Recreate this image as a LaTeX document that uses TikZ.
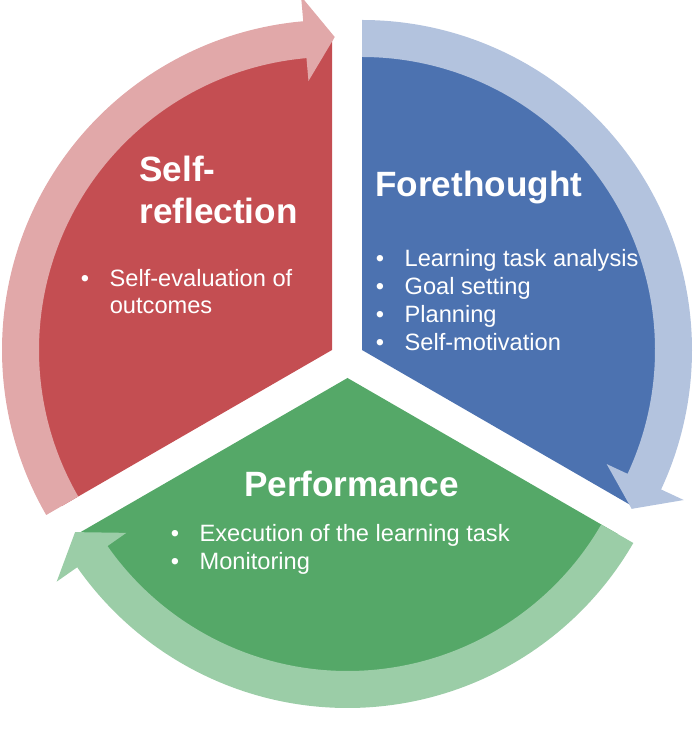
\documentclass[tikz,border=0pt]{standalone}
\usepackage{fontspec}
\setmainfont{Liberation Sans}
\usepackage{tikz}
\definecolor{foreblue}{HTML}{4C72B0}
\definecolor{forelight}{HTML}{B3C3DE}
\definecolor{perfgreen}{HTML}{55A868}
\definecolor{perflight}{HTML}{9BCDA7}
\definecolor{reflred}{HTML}{C44E52}
\definecolor{refllight}{HTML}{E1A8A9}
\newcommand{\bul}[1]{\makebox[16.4pt][l]{\textbullet}#1}

\begin{document}
\begin{tikzpicture}[x=0.02cm,y=0.02cm,
  phasetitle/.style={text=white,font=\fontsize{20}{24}\selectfont\bfseries,inner sep=0pt},
  phaseitem/.style={text=white,font=\fontsize{13.45}{16}\selectfont,anchor=base west,inner sep=0pt}]
\useasboundingbox (0,0) rectangle (694,740);
\coordinate (B) at (362,390);
\coordinate (G) at (347.5,362);
\coordinate (R) at (332,390);

% Sectors (outer rim hidden under the arrows)
\fill[foreblue] (B) -- ++(-30:312) arc[start angle=-30,end angle=90,radius=312] -- cycle;
\fill[perfgreen] (G) -- ++(210:312) arc[start angle=210,end angle=330,radius=312] -- cycle;
\fill[reflred] (R) -- ++(90:312) arc[start angle=90,end angle=210,radius=312] -- cycle;

% Outer arrows
\foreach \c/\col/\s/\e in {B/forelight/90/-30, G/perflight/-30/-150, R/refllight/210/90}
{
    \pgfmathsetmacro{\base}{\e+5}
    \pgfmathsetmacro{\tip}{\e-0.5}
    \fill[\col] ([shift={(\s:330)}]\c) arc[start angle=\s,end angle=\base,radius=330]
        -- ([shift={(\base:355)}]\c) -- ([shift={(\tip:313)}]\c) -- ([shift={(\base:270)}]\c)
        -- ([shift={(\base:293)}]\c) arc[start angle=\base,end angle=\s,radius=293] -- cycle;
}

% Forethought
\node[phasetitle,anchor=base west] (fore) at (375,543) {Forethought};
\foreach \txt [count=\i] in {Learning task analysis,Goal setting,Planning,Self-motivation}
    \node[phaseitem] (fore\i) at (375.5,501-28*\i) {\bul{\txt}};

% Performance
\node[phasetitle,anchor=base] (perf) at (351.5,243) {Performance};
\node[phaseitem] (perf1) at (170.5,198) {\bul{Execution of the learning task}};
\node[phaseitem] (perf2) at (170.5,170) {\bul{Monitoring}};

% Self-reflection
\node[phasetitle,anchor=base west] (refl) at (139,558) {Self-};
\node[phasetitle,anchor=base west] (refl2) at (139,516) {reflection};
\node[phaseitem] (refl3) at (80.5,453) {\bul{Self-evaluation of}};
\node[phaseitem] (refl4) at (109.5,426) {outcomes};
\end{tikzpicture}
\end{document}
